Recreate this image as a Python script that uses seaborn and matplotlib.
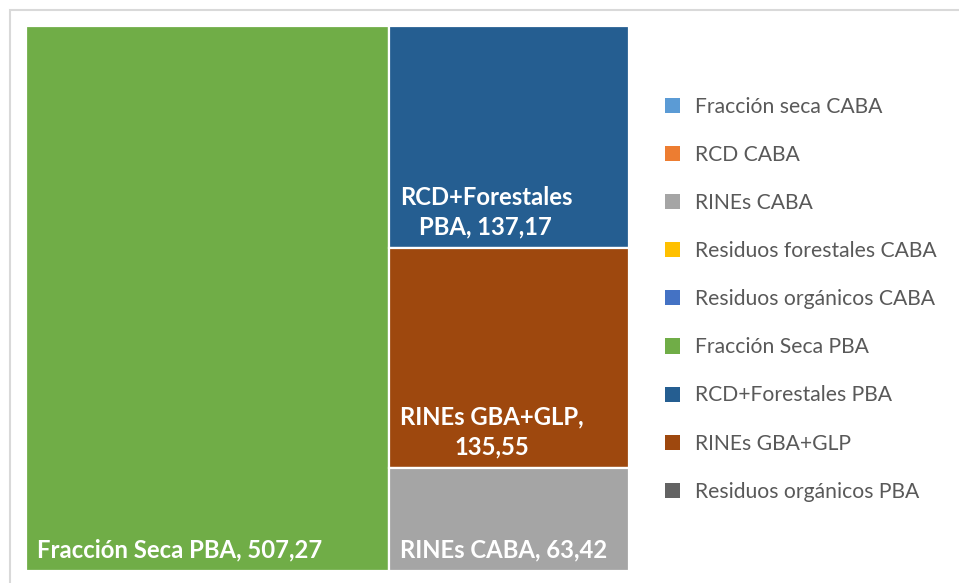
import matplotlib
matplotlib.use("Agg")
import matplotlib.pyplot as plt
from matplotlib.patches import Rectangle, Patch
import seaborn as sns

categories = ["Fracción seca CABA", "RCD CABA", "RINEs CABA", "Residuos forestales CABA",
              "Residuos orgánicos CABA", "Fracción Seca PBA", "RCD+Forestales PBA",
              "RINEs GBA+GLP", "Residuos orgánicos PBA"]
values = [0, 0, 63.42, 0, 0, 507.27, 137.17, 135.55, 0]
colors = ["#5B9BD5", "#ED7D31", "#A5A5A5", "#FFC000", "#4472C4",
          "#70AD47", "#255E91", "#9E480E", "#636363"]
# how each box label is wrapped
label_text = {
    "Fracción Seca PBA": "Fracción Seca PBA, 507,27",
    "RCD+Forestales PBA": "RCD+Forestales\nPBA, 137,17",
    "RINEs GBA+GLP": "RINEs GBA+GLP,\n135,55",
    "RINEs CABA": "RINEs CABA, 63,42",
}

W, H = 603.0, 545.0  # layout rectangle (same aspect as the plot area)


def worst(row, side):
    s = sum(row)
    return max(max(side * side * r / (s * s), s * s / (side * side * r)) for r in row)


def squarify(items, x, y, w, h):
    # items: list of (name, area) sorted descending, areas already scaled to w*h
    out = []
    items = list(items)
    while items:
        side = min(w, h)
        row = [items.pop(0)]
        while items and worst([a for _, a in row + [items[0]]], side) <= worst([a for _, a in row], side):
            row.append(items.pop(0))
        s = sum(a for _, a in row)
        if w >= h:
            cw = s / h
            cy = y + h
            for name, a in row:
                rh = a / cw
                cy -= rh
                out.append((name, x, cy, cw, rh))
            x += cw
            w -= cw
        else:
            rh = s / w
            cx = x
            for name, a in row:
                rw = a / rh
                out.append((name, cx, y + h - rh, rw, rh))
                cx += rw
            h -= rh
    return out


sns.set_theme(style="white")
plt.rcParams["font.family"] = ["Lato", "DejaVu Sans"]

fig = plt.figure(figsize=(9.59, 5.83), dpi=100)
fig.patches.append(Rectangle((10 / 959, -0.1), 2, 1.1 - 10 / 583, transform=fig.transFigure,
                             facecolor="none", edgecolor="#D9D9D9", linewidth=1.5))
ax = fig.add_axes([26 / 959, 12 / 583, 603 / 959, 545 / 583])

total = sum(values)
items = sorted([(c, v / total * W * H) for c, v in zip(categories, values) if v > 0],
               key=lambda t: -t[1])
col = dict(zip(categories, colors))
for name, x, y, w, h in squarify(items, 0, 0, W, H):
    ax.add_patch(Rectangle((x, y), w, h, facecolor=col[name], edgecolor="white", linewidth=1.6))
    ax.text(x + 11, y + 10, label_text[name], ha="left", va="bottom", multialignment="center",
            color="white", fontsize=17.2, fontweight="bold", linespacing=1.35)

ax.set_xlim(0, W)
ax.set_ylim(0, H)
ax.axis("off")

handles = [Patch(facecolor=c, edgecolor="none") for c in colors]
leg = fig.legend(handles, categories, loc="upper left", bbox_to_anchor=(646 / 959, 1 - 78 / 583),
                 frameon=False, fontsize=15.2, handlelength=0.72, handleheight=0.72,
                 labelspacing=1.33, handletextpad=0.72, labelcolor="#595959")

fig.savefig("out.png", dpi=100)
